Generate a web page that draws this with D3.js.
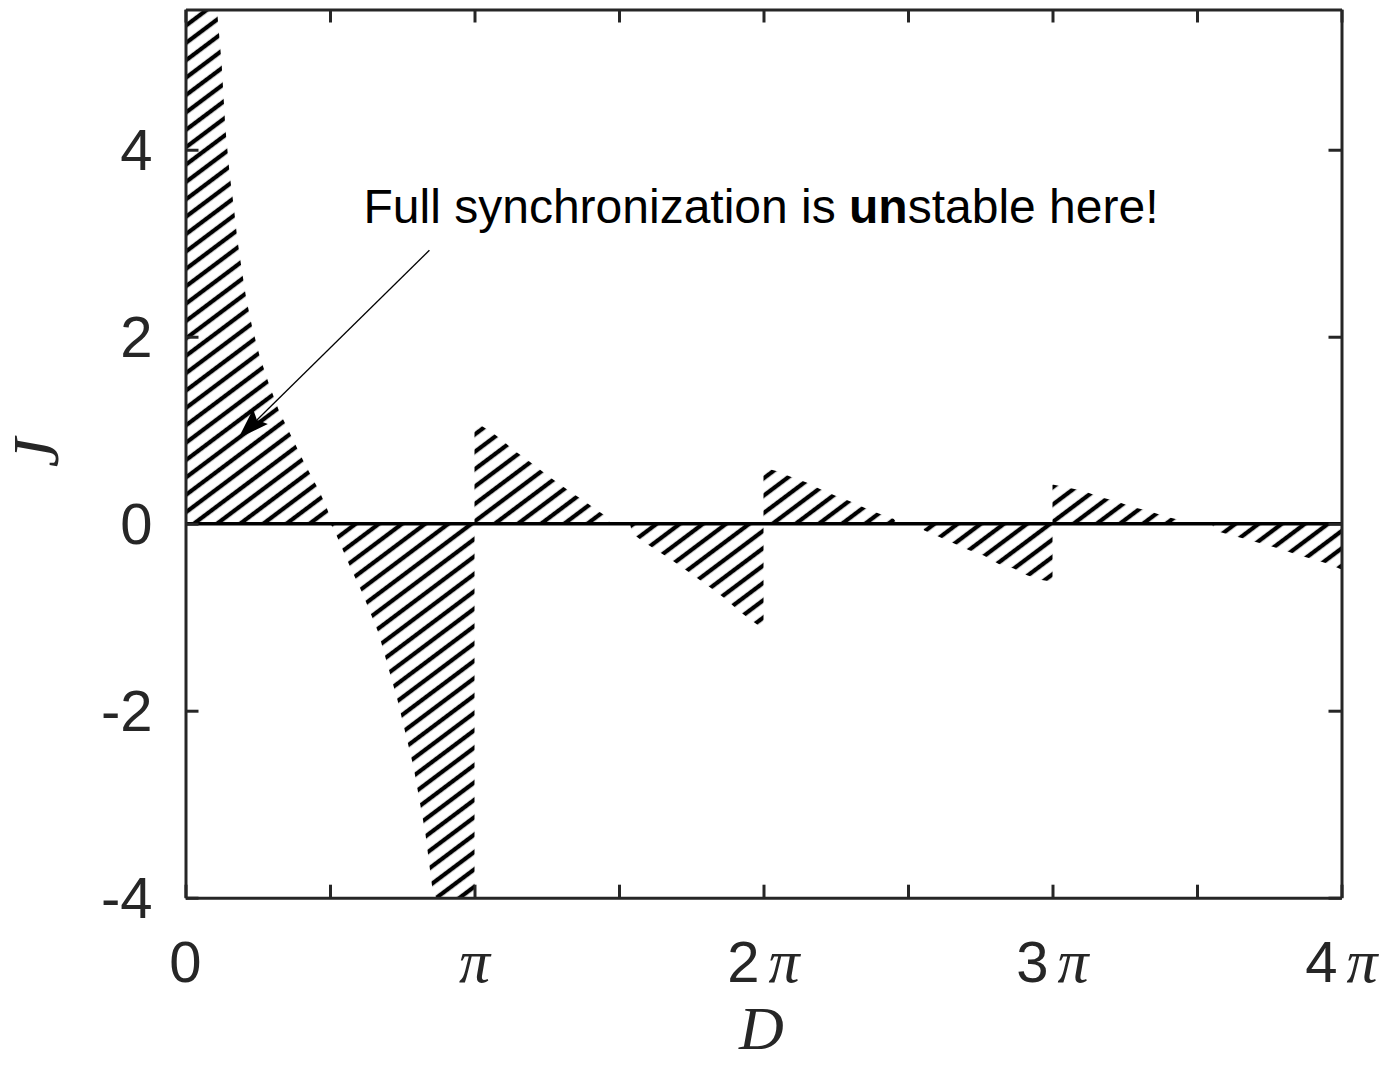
<!DOCTYPE html>
<html>
<head>
<meta charset="utf-8">
<script src="https://cdn.jsdelivr.net/npm/d3@7"></script>
<style>
body { margin: 0; background: #fff; }
</style>
</head>
<body>
<div id="graph"></div>
<script>
var svgWidth = 1379;
var svgHeight = 1065;

var regionA = [[0, 5.5], [0.108, 5.5], [0.110, 5.46], [0.125, 4.92], [0.138, 4.23], [0.153, 3.73], [0.167, 3.39],
	[0.179, 3.05], [0.194, 2.73], [0.210, 2.41], [0.231, 2.10], [0.256, 1.80], [0.288, 1.50], [0.323, 1.21],
	[0.367, 0.93], [0.413, 0.64], [0.461, 0.36], [0.482, 0.22], [0.496, 0.11], [0.502, 0]];
var regionB = [[0.502, 0], [0.519, -0.10], [0.571, -0.47], [0.612, -0.74], [0.668, -1.17], [0.734, -1.89],
	[0.789, -2.60], [0.830, -3.31], [0.855, -3.92], [0.868, -4.0], [1.0, -4.0]];
var regionC = [[1.0, 1.1], [1.021, 1.053], [1.061, 0.975], [1.096, 0.893], [1.136, 0.786], [1.175, 0.70],
	[1.215, 0.607], [1.255, 0.511], [1.295, 0.422], [1.335, 0.334], [1.381, 0.241], [1.419, 0.155],
	[1.459, 0.073], [1.471, 0]];
var regionD = [[1.538, 0], [1.546, -0.105], [1.586, -0.195], [1.630, -0.283], [1.672, -0.366], [1.713, -0.455],
	[1.753, -0.543], [1.794, -0.633], [1.834, -0.722], [1.874, -0.818], [1.909, -0.918], [1.949, -1.014],
	[1.990, -1.104], [2.0, -1.12]];
var regionE = [[2.0, 0.60], [2.047, 0.56], [2.096, 0.50], [2.149, 0.44], [2.197, 0.37], [2.249, 0.30],
	[2.299, 0.24], [2.349, 0.17], [2.399, 0.11], [2.451, 0.05], [2.462, 0]];
var regionF = [[2.549, 0], [2.555, -0.07], [2.607, -0.14], [2.658, -0.21], [2.710, -0.28], [2.762, -0.34],
	[2.814, -0.43], [2.866, -0.48], [2.912, -0.55], [2.958, -0.60], [3.0, -0.62]];
var regionG = [[3.0, 0.42], [3.051, 0.387], [3.108, 0.35], [3.163, 0.287], [3.218, 0.244], [3.276, 0.18],
	[3.333, 0.137], [3.388, 0.08], [3.443, 0.037], [3.452, 0]];
var regionH = [[3.553, 0], [3.558, -0.07], [3.616, -0.12], [3.674, -0.17], [3.731, -0.22], [3.789, -0.27],
	[3.844, -0.33], [3.902, -0.38], [3.956, -0.43], [4.0, -0.49]];

var xTicks = [0, 0.5, 1, 1.5, 2, 2.5, 3, 3.5, 4];
var xTickLabels = ["0", "", "π", "", "2π", "", "3π", "", "4π"];
var yTicks = [-4, -2, 0, 2, 4];
var yTickLabels = ["-4", "-2", "0", "2", "4"];

var annotationText = ["Full synchronization is ", "un", "stable here!"];
var annotationPos = [0.616, 3.22];
var arrowFrom = [0.844, 2.925];
var arrowTo = [0.183, 0.914];

var axisColor = "#262626";

var svg = d3.select("#graph")
	.append("svg")
	.attr("width", svgWidth)
	.attr("height", svgHeight)
	.style("background", "#fff");

var x = d3.scaleLinear().domain([0, 4]).range([185.5, 1341.5]);
var y = d3.scaleLinear().domain([-4, 5.5]).range([897.7, 9.5]);

var defs = svg.append("defs");
defs.append("clipPath").attr("id", "plotclip")
	.append("rect")
	.attr("x", x(0)).attr("y", y(5.5))
	.attr("width", x(4) - x(0)).attr("height", y(-4) - y(5.5));

var hatch = defs.append("pattern")
	.attr("id", "hatch")
	.attr("patternUnits", "userSpaceOnUse")
	.attr("width", 20)
	.attr("height", 13.9)
	.attr("patternTransform", "rotate(-36.9)");
hatch.append("line")
	.attr("x1", -2).attr("y1", 7).attr("x2", 22).attr("y2", 7)
	.attr("stroke", "#000").attr("stroke-width", 4.3);

var area = d3.area()
	.x(d => x(d[0]))
	.y0(y(0))
	.y1(d => y(d[1]));

var regions = [regionA, regionB, regionC, regionD, regionE, regionF, regionG, regionH];

var plot = svg.append("g").attr("clip-path", "url(#plotclip)");
plot.selectAll("path.region")
	.data(regions)
	.enter()
	.append("path")
	.attr("class", "region")
	.attr("d", area)
	.attr("fill", "url(#hatch)");

// zero line
plot.append("line")
	.attr("x1", x(0)).attr("x2", x(4))
	.attr("y1", y(0)).attr("y2", y(0))
	.attr("stroke", "#000")
	.attr("stroke-width", 3.5);

// box axes with inward ticks
function styleAxis(g) {
	g.select(".domain").attr("stroke", axisColor).attr("stroke-width", 3);
	g.selectAll(".tick line").attr("stroke", axisColor).attr("stroke-width", 3);
	g.selectAll(".tick text").remove();
}

svg.append("g")
	.attr("transform", "translate(0," + y(-4) + ")")
	.call(d3.axisBottom(x).tickValues(xTicks).tickSizeInner(-13).tickSizeOuter(0))
	.call(styleAxis);
svg.append("g")
	.attr("transform", "translate(0," + y(5.5) + ")")
	.call(d3.axisTop(x).tickValues(xTicks).tickSizeInner(-13).tickSizeOuter(0))
	.call(styleAxis);
svg.append("g")
	.attr("transform", "translate(" + x(0) + ",0)")
	.call(d3.axisLeft(y).tickValues(yTicks).tickSizeInner(-13).tickSizeOuter(0))
	.call(styleAxis);
svg.append("g")
	.attr("transform", "translate(" + x(4) + ",0)")
	.call(d3.axisRight(y).tickValues(yTicks).tickSizeInner(-13).tickSizeOuter(0))
	.call(styleAxis);

// y tick labels
svg.selectAll("text.ylab")
	.data(yTicks)
	.enter()
	.append("text")
	.attr("class", "ylab")
	.attr("x", x(0) - 33)
	.attr("y", d => y(d) + 20.5)
	.attr("text-anchor", "end")
	.style("font-family", "'Liberation Sans', Arial, sans-serif")
	.style("font-size", "58px")
	.style("fill", axisColor)
	.text((d, i) => yTickLabels[i]);

// x tick labels, the pi is a serif italic
var xlab = svg.selectAll("text.xlab")
	.data(xTicks.filter((d, i) => xTickLabels[i] !== ""))
	.enter()
	.append("text")
	.attr("class", "xlab")
	.attr("x", d => x(d))
	.attr("y", 982)
	.attr("text-anchor", "middle")
	.style("fill", axisColor);
xlab.each(function (d) {
	var label = xTickLabels[xTicks.indexOf(d)];
	var t = d3.select(this);
	var num = label.replace("π", "");
	if (num !== "") {
		t.append("tspan")
			.style("font-family", "'Liberation Sans', Arial, sans-serif")
			.style("font-size", "58px")
			.text(num);
	}
	if (label.indexOf("π") >= 0) {
		t.append("tspan")
			.attr("dx", num !== "" ? 9 : 0)
			.style("font-family", "'Liberation Serif', 'Times New Roman', serif")
			.style("font-style", "italic")
			.style("font-size", "62px")
			.text("π");
	}
});

// axis titles
svg.append("text")
	.attr("x", (x(0) + x(4)) / 2 - 2)
	.attr("y", 1049)
	.attr("text-anchor", "middle")
	.style("font-family", "'Liberation Serif', 'Times New Roman', serif")
	.style("font-style", "italic")
	.style("font-size", "62px")
	.style("fill", axisColor)
	.text("D");

svg.append("text")
	.attr("transform", "translate(58," + y(0.76) + ") rotate(-90)")
	.attr("text-anchor", "middle")
	.style("font-family", "'Liberation Serif', 'Times New Roman', serif")
	.style("font-style", "italic")
	.style("font-size", "66px")
	.style("fill", axisColor)
	.text("J");

// annotation
var note = svg.append("text")
	.attr("x", x(annotationPos[0]))
	.attr("y", y(annotationPos[1]))
	.style("font-family", "'Liberation Sans', Arial, sans-serif")
	.style("font-size", "48px")
	.style("fill", "#000");
note.selectAll("tspan")
	.data(annotationText)
	.enter()
	.append("tspan")
	.style("font-weight", (d, i) => i === 1 ? "bold" : "normal")
	.text(d => d);

var x1 = x(arrowFrom[0]), y1 = y(arrowFrom[1]);
var x2 = x(arrowTo[0]), y2 = y(arrowTo[1]);
var len = Math.hypot(x2 - x1, y2 - y1);
var ux = (x2 - x1) / len, uy = (y2 - y1) / len;
var headLen = 31, headHalf = 10.5, notch = 5;
var bx = x2 - ux * headLen, by = y2 - uy * headLen;

svg.append("line")
	.attr("x1", x1).attr("y1", y1)
	.attr("x2", bx + ux * notch).attr("y2", by + uy * notch)
	.attr("stroke", "#000")
	.attr("stroke-width", 1.3);

svg.append("path")
	.attr("d", "M" + x2 + "," + y2 +
		"L" + (bx - uy * headHalf) + "," + (by + ux * headHalf) +
		"L" + (bx + ux * notch) + "," + (by + uy * notch) +
		"L" + (bx + uy * headHalf) + "," + (by - ux * headHalf) + "Z")
	.attr("fill", "#000");
</script>
</body>
</html>
